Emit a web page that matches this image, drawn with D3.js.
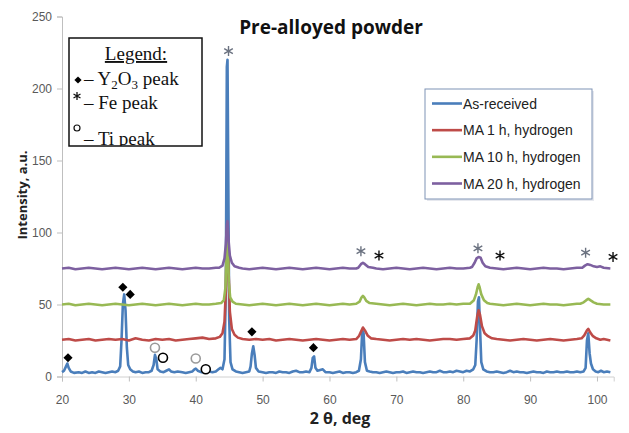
<!DOCTYPE html>
<html>
<head>
<meta charset="utf-8">
<script src="https://cdn.jsdelivr.net/npm/d3@7"></script>
<style>
  html, body { margin: 0; padding: 0; background: #fff; }
  svg { display: block; }
</style>
</head>
<body>
<div id="chart"></div>
<script>
// ---- data ----
const seriesNames = ['As-received', 'MA 1 h, hydrogen', 'MA 10 h, hydrogen', 'MA 20 h, hydrogen'];
const seriesColors = ['#4a7ebb', '#be4b48', '#98b954', '#7d60a0'];
const twoThetaTicks = [20, 30, 40, 50, 60, 70, 80, 90, 100];
const intensityTicks = [0, 50, 100, 150, 200, 250];

// [2theta, intensity]
const asReceived = [
  [20,3],[20.3,4],[20.6,7],[20.8,9],[21,6],[21.3,3.5],[21.8,2.5],[22.5,3],[23,2.5],[23.5,3.5],[24,2.5],[24.5,3],
  [25,2.5],[25.5,3.5],[26,3],[26.5,2.5],[27,3],[27.5,3.5],[28,3],[28.4,4],[28.7,7],[28.9,25],[29.1,50],[29.3,57],
  [29.5,46],[29.7,20],[29.9,8],[30.2,5],[30.6,3.5],[31,3],[31.5,3.5],[32,2.5],[32.5,3],[33,3],[33.4,4],[33.7,8],
  [33.9,15],[34.1,12],[34.3,5],[34.7,3.5],[35.2,3],[35.6,4],[36,5],[36.3,3.5],[36.8,3],[37.3,3.5],[38,3],[38.5,2.5],
  [39,3],[39.5,3.5],[39.8,5],[40,5.5],[40.3,4],[40.8,3],[41.5,3],[42,3.5],[42.5,3],[43,3.5],[43.4,5],[43.7,6],
  [44,5],[44.3,12],[44.5,60],[44.65,215],[44.75,220],[44.85,150],[45,40],[45.2,10],[45.5,5],[46,3.5],[46.5,3],
  [47,2.5],[47.5,3],[48,3.5],[48.2,7],[48.4,16],[48.6,21],[48.8,15],[49,6],[49.4,3.5],[50,3],[50.5,2.5],[51,3],
  [51.5,3],[52,2.5],[52.5,3.5],[53,3],[53.5,3],[54,2.5],[54.5,3.5],[55,4],[55.5,3],[56,3],[56.5,3.5],[57,3],
  [57.3,6],[57.5,13],[57.7,14],[57.9,6],[58.2,4],[58.6,4.5],[59,5],[59.4,3],[60,3],[60.5,2.5],[61,3],[61.5,3.5],
  [62,2.5],[62.5,3],[63,3],[63.5,2.5],[64,3],[64.4,4],[64.7,12],[64.9,32],[65.1,30],[65.3,10],[65.6,4],[66,3.5],
  [66.5,3],[67,3],[67.5,2.5],[68,3],[68.5,3.5],[69,3],[69.5,2.5],[70,3],[70.5,3],[71,3.5],[71.5,2.5],[72,3],
  [72.5,3.5],[73,3],[73.5,3],[74,2.5],[74.5,3],[75,3.5],[75.5,3],[76,3],[76.5,4],[77,3],[77.5,3],[78,3.5],
  [78.5,3],[79,4],[79.5,3.5],[80,3],[80.5,4],[81,3.5],[81.5,5],[81.8,8],[82,25],[82.2,52],[82.35,55],[82.5,35],
  [82.7,10],[83,5],[83.5,3.5],[84,3],[84.5,3],[85,3.5],[85.5,3],[86,2.5],[86.5,3],[87,4],[87.5,3],[88,3.5],
  [88.5,3],[89,3],[89.5,2.5],[90,3],[90.5,3.5],[91,3],[91.5,3],[92,2.5],[92.5,3.5],[93,3],[93.5,3],[94,3.5],
  [94.5,3],[95,3],[95.5,3.5],[96,3],[96.5,3],[97,3.5],[97.5,3],[98,3.5],[98.3,6],[98.5,25],[98.7,30],[98.9,16],
  [99.1,9],[99.4,5],[99.8,3.5],[100.2,3],[100.6,4],[101,3],[101.5,3.5],[102,3]
];
const ma1h = [
  [20,25.5],[21,26],[22,25],[23,25.5],[24,26],[25,25],[26,25.5],[27,26],[28,25.5],[29,26],[30,25],[31,26.5],
  [32,25.5],[33,25],[34,26],[35,25.5],[36,26],[37,25],[38,25.5],[39,26],[40,26.5],[41,27],[42,26],[43,26.5],
  [43.6,27.5],[44,30],[44.3,38],[44.5,60],[44.65,100],[44.75,104],[44.9,75],[45.1,45],[45.4,33],[45.8,29],
  [46.3,27],[47,26],[48,25.5],[49,26],[50,25.5],[51,26],[52,25],[53,25.5],[54,26],[55,25.5],[56,25],[57,25.5],
  [58,26],[59,25.5],[60,25],[61,25.5],[62,26],[63,25.5],[64,26],[64.4,28],[64.7,31],[65,34],[65.3,32],[65.7,28.5],
  [66.2,26.5],[67,26],[68,25.5],[69,25],[70,25.5],[71,26],[72,25.5],[73,26],[74,25.5],[75,25],[76,25.5],[77,26],
  [78,26],[79,25.5],[80,26],[81,26.5],[81.5,28.5],[81.8,32],[82.1,42],[82.3,46],[82.5,43],[82.8,35],[83.2,30],
  [83.7,28],[84.3,26.5],[85,26],[86,25.5],[87,25],[88,25.5],[89,26],[90,25.5],[91,25],[92,25.5],[93,26],[94,25.5],
  [95,25],[96,25.5],[97,26],[97.7,26.5],[98.1,28.5],[98.5,32],[98.7,33],[99,30.5],[99.4,28],[99.9,26.5],
  [100.5,25.5],[101,26],[101.5,25.5],[102,25]
];
const ma10h = [
  [20,50],[21,50.5],[22,49.5],[23,50],[24,50.5],[25,50],[26,49.5],[27,50],[28,50.5],[29,50],[30,49.5],[31,50],
  [32,50.5],[33,50],[34,49.5],[35,50],[36,50.5],[37,50],[38,49.5],[39,50],[40,50.5],[41,50],[42,50],[43,50.5],
  [43.8,51],[44.2,53],[44.45,62],[44.6,85],[44.7,98],[44.8,90],[44.95,65],[45.15,55],[45.5,52],[46,50.5],[47,50],
  [48,49.5],[49,50],[50,50.5],[51,50],[52,49.5],[53,50],[54,50.5],[55,50],[56,49.5],[57,50],[58,50.5],[59,50],
  [60,49.5],[61,50],[62,50.5],[63,50],[64,50.5],[64.5,52],[64.8,55],[65,56],[65.2,55],[65.5,52.5],[66,51],
  [67,50.5],[68,50],[69,49.5],[70,50],[71,50.5],[72,50],[73,49.5],[74,50],[75,50.5],[76,50],[77,50],[78,50.5],
  [79,50],[80,50.5],[81,50.5],[81.6,53],[81.9,57],[82.15,62],[82.3,64],[82.45,62],[82.7,57],[83.1,53],[83.6,51],
  [84,50.5],[85,50],[86,49.5],[87,50],[88,50.5],[89,50],[90,49.5],[91,50],[92,50.5],[93,50],[94,50],[95,49.5],
  [96,50],[97,50.5],[97.5,50.5],[98,51.5],[98.4,53],[98.7,54],[99,53],[99.5,51.5],[100,50.5],[101,50],[102,50]
];
const ma20h = [
  [20,75],[21,75.5],[22,74.5],[23,75],[24,75.5],[25,75],[26,74.5],[27,75],[28,75.5],[29,75],[30,74.5],[31,75],
  [32,75.5],[33,75],[34,74.5],[35,75],[36,75.5],[37,75],[38,74.5],[39,75],[40,75.5],[41,75],[42,75],[43,75.5],
  [43.5,75.5],[44,77],[44.3,82],[44.5,92],[44.65,105],[44.75,108],[44.9,95],[45.1,84],[45.4,79],[45.8,76.5],
  [46.5,75.5],[47,75],[48,74.5],[49,75],[50,75.5],[51,75],[52,74.5],[53,75],[54,75.5],[55,75],[56,74.5],[57,75],
  [58,75.5],[59,75],[60,74.5],[61,75],[62,75.5],[63,75],[64,75],[64.3,75.5],[64.7,78],[65,79],[65.3,78],
  [65.8,76],[66.5,75.5],[67,75],[68,74.5],[69,75],[70,75.5],[71,75],[72,74.5],[73,75],[74,75.5],[75,75],
  [76,74.5],[77,75],[78,75.5],[79,75],[80,75],[81,75.5],[81.3,76],[81.7,79],[82,82],[82.3,83],[82.6,82.5],
  [82.9,79],[83.3,76.5],[84,75.5],[85,75],[86,74.5],[87,75],[88,75.5],[89,75],[90,74.5],[91,75],[92,75.5],
  [93,75],[94,75],[95,74.5],[96,75],[97,75.5],[97.8,75.5],[98.2,77],[98.6,78],[99,77.5],[99.5,76.5],[100,76],
  [100.5,76.5],[101,75.5],[102,75]
];
const seriesData = [asReceived, ma1h, ma10h, ma20h];

// peak annotation marks [2theta, intensity]
const y2o3Marks = [[20.9, 13], [29.1, 62], [30.2, 57], [48.4, 31], [57.6, 20]];
const feMarksGray = [[44.9, 226], [64.7, 87], [82.2, 89], [98.3, 86]];
const feMarksBlack = [[67.4, 84], [85.5, 84], [102.4, 83]];
const tiMarksGray = [[33.9, 20], [40, 12.5]];
const tiMarksBlack = [[35.1, 13], [41.5, 5]];

// ---- drawing ----
const width = 629, height = 433;
const svg = d3.select('#chart').append('svg')
  .attr('width', width)
  .attr('height', height);

const x = d3.scaleLinear().domain([20, 102.5]).range([62, 613.7]);
const y = d3.scaleLinear().domain([0, 250]).range([376.5, 16.5]);

const sans = "'Liberation Sans', Arial, sans-serif";
const serif = "'Liberation Serif', 'Times New Roman', serif";
const tickColor = '#595959';

// axes
svg.append('g')
  .attr('transform', `translate(0,${y(0)})`)
  .call(d3.axisBottom(x).tickValues(twoThetaTicks).tickSize(5).tickPadding(14))
  .call(g => g.select('.domain').attr('stroke', '#d0d0d0'))
  .call(g => g.selectAll('.tick line').attr('stroke', '#bfbfbf'))
  .call(g => g.selectAll('.tick text')
    .attr('fill', tickColor)
    .attr('font-family', sans)
    .attr('font-size', '12px'));

svg.append('g')
  .attr('transform', `translate(${x(20)},0)`)
  .call(d3.axisLeft(y).tickValues(intensityTicks).tickSize(5).tickPadding(5))
  .call(g => g.select('.domain').attr('stroke', '#bfbfbf'))
  .call(g => g.selectAll('.tick line').attr('stroke', '#bfbfbf'))
  .call(g => g.selectAll('.tick text')
    .attr('fill', tickColor)
    .attr('font-family', sans)
    .attr('font-size', '12px'));

// spectra, first series underneath
const line = d3.line().x(d => x(d[0])).y(d => y(d[1]));
svg.append('g').selectAll('path.series')
  .data(seriesData)
  .join('path')
  .attr('class', 'series')
  .attr('d', line)
  .attr('fill', 'none')
  .attr('stroke', (d, i) => seriesColors[i])
  .attr('stroke-width', 2.6)
  .attr('stroke-linejoin', 'round');

// title and axis labels
svg.append('text')
  .attr('x', 331).attr('y', 34)
  .attr('text-anchor', 'middle')
  .attr('font-family', "'Open Sans', sans-serif")
  .attr('font-weight', 'bold')
  .attr('font-size', '19px')
  .attr('fill', '#111')
  .text('Pre-alloyed powder');

svg.append('text')
  .attr('transform', 'translate(27,195) rotate(-90)')
  .attr('text-anchor', 'middle')
  .attr('font-family', "'Open Sans', sans-serif")
  .attr('font-weight', 'bold')
  .attr('font-size', '13px')
  .attr('fill', '#222')
  .text('Intensity, a.u.');

svg.append('text')
  .attr('x', 340).attr('y', 424)
  .attr('text-anchor', 'middle')
  .attr('font-family', "'Open Sans', sans-serif")
  .attr('font-weight', 'bold')
  .attr('font-size', '16px')
  .attr('fill', '#222')
  .text('2 \u03b8, deg');

// peak marks: diamonds drawn as squares turned 45 degrees
const diamond = d3.symbol().type(d3.symbolSquare).size(42);
svg.append('g').selectAll('path')
  .data(y2o3Marks)
  .join('path')
  .attr('transform', d => `translate(${x(d[0])},${y(d[1])}) rotate(45)`)
  .attr('d', diamond)
  .attr('fill', '#000');

const starType = d3.symbolAsterisk || d3.symbolCross;
const star = d3.symbol().type(starType).size(70);
function drawStars(data, color) {
  svg.append('g').selectAll('path')
    .data(data)
    .join('path')
    .attr('transform', d => `translate(${x(d[0])},${y(d[1])})`)
    .attr('d', star)
    .attr('fill', 'none')
    .attr('stroke', color)
    .attr('stroke-width', 1.4);
}
drawStars(feMarksGray, '#6b7280');
drawStars(feMarksBlack, '#111');

function drawRings(data, color) {
  svg.append('g').selectAll('circle')
    .data(data)
    .join('circle')
    .attr('cx', d => x(d[0]))
    .attr('cy', d => y(d[1]))
    .attr('r', 4.5)
    .attr('fill', '#fff')
    .attr('stroke', color)
    .attr('stroke-width', 1.6);
}
drawRings(tiMarksGray, '#9a9a9a');
drawRings(tiMarksBlack, '#000');

// left legend box (symbol key)
const keyBox = { x: 69, y: 38, w: 133, h: 108 };
svg.append('clipPath').attr('id', 'keyClip')
  .append('rect')
  .attr('x', keyBox.x).attr('y', keyBox.y)
  .attr('width', keyBox.w).attr('height', keyBox.h);
svg.append('rect')
  .attr('x', keyBox.x).attr('y', keyBox.y)
  .attr('width', keyBox.w).attr('height', keyBox.h)
  .attr('fill', '#fff')
  .attr('stroke', '#111')
  .attr('stroke-width', 1.5);
const key = svg.append('g').attr('clip-path', 'url(#keyClip)')
  .attr('font-family', serif).attr('font-size', '19px').attr('fill', '#111');
key.append('text')
  .attr('x', 136).attr('y', 60)
  .attr('text-anchor', 'middle')
  .attr('text-decoration', 'underline')
  .text('Legend:');
key.append('path')
  .attr('transform', 'translate(78,80) rotate(45)')
  .attr('d', d3.symbol().type(d3.symbolSquare).size(26))
  .attr('fill', '#000');
const yRow = key.append('text').attr('x', 84).attr('y', 85);
yRow.append('tspan').text('\u2013 Y');
yRow.append('tspan').attr('font-size', '13px').attr('dy', 4).text('2');
yRow.append('tspan').attr('dy', -4).text('O');
yRow.append('tspan').attr('font-size', '13px').attr('dy', 4).text('3');
yRow.append('tspan').attr('dy', -4).text(' peak');
key.append('path')
  .attr('transform', 'translate(77,96)')
  .attr('d', d3.symbol().type(starType).size(45))
  .attr('fill', 'none').attr('stroke', '#111').attr('stroke-width', 1.3);
key.append('text').attr('x', 84).attr('y', 109).text('\u2013 Fe peak');
key.append('circle')
  .attr('cx', 77).attr('cy', 128).attr('r', 3)
  .attr('fill', 'none').attr('stroke', '#111').attr('stroke-width', 1.2);
key.append('text').attr('x', 84).attr('y', 145).text('\u2013 Ti peak');

// right legend box (series)
const legBox = { x: 425, y: 89, w: 167, h: 110 };
svg.append('rect')
  .attr('x', legBox.x + 2).attr('y', legBox.y + 2)
  .attr('width', legBox.w).attr('height', legBox.h)
  .attr('fill', '#e6e8ee');
svg.append('rect')
  .attr('x', legBox.x).attr('y', legBox.y)
  .attr('width', legBox.w).attr('height', legBox.h)
  .attr('fill', '#fff')
  .attr('stroke', '#7f93b5')
  .attr('stroke-width', 1);
const rowY = d3.scalePoint().domain(seriesNames).range([103.5, 183.5]);
const item = svg.append('g').selectAll('g')
  .data(seriesNames)
  .join('g')
  .attr('transform', d => `translate(0,${rowY(d)})`);
item.append('line')
  .attr('x1', 432).attr('x2', 462)
  .attr('stroke', (d, i) => seriesColors[i])
  .attr('stroke-width', 2.6);
item.append('text')
  .attr('x', 463).attr('y', 5)
  .attr('font-family', sans)
  .attr('font-size', '14px')
  .attr('fill', '#222')
  .text(d => d);
</script>
</body>
</html>
